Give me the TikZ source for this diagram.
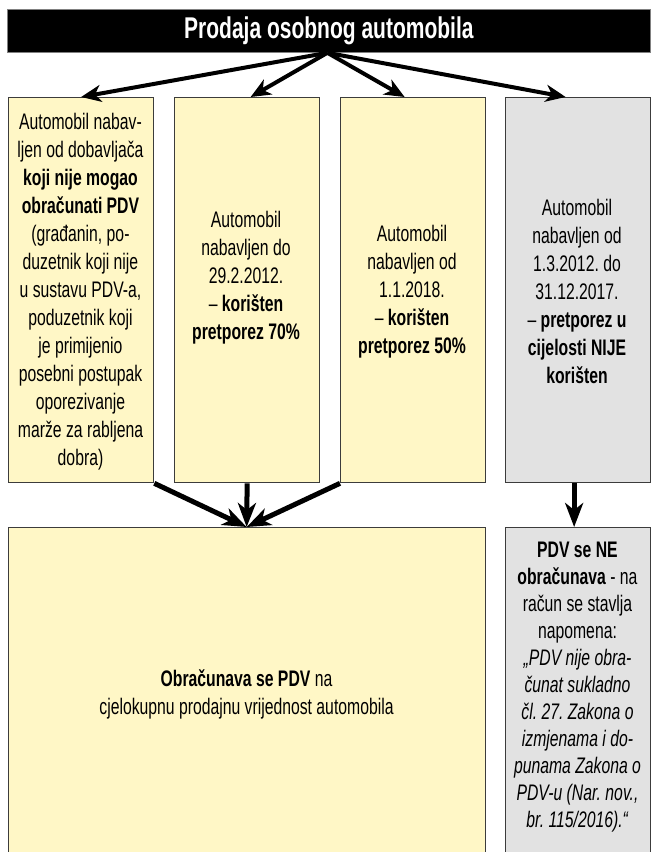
\documentclass[tikz,border=0pt]{standalone}
\usepackage{fontspec}
\setmainfont{Liberation Sans}[FakeStretch=0.70]
\usetikzlibrary{arrows.meta,calc}
\definecolor{boxyellow}{HTML}{FFF7C6}
\definecolor{boxgray}{HTML}{E2E2E2}
\definecolor{boxline}{HTML}{3C3C3C}
\frenchspacing
\begin{document}
\begin{tikzpicture}[x=1pt,y=-1pt,
  box/.style={draw=boxline,line width=1.3pt,minimum width=145pt,minimum height=385pt,inner sep=0pt,anchor=north west},
  ybox/.style={box,fill=boxyellow},
  gbox/.style={box,fill=boxgray},
  txt/.style={align=center,inner sep=0pt,font=\fontsize{22.5}{28}\selectfont},
  toparrow/.style={line width=4pt,-{Stealth[length=20pt,width=17pt,inset=6pt]}},
  downarrow/.style={line width=5pt,-{Stealth[length=24pt,width=18pt,inset=7pt]}}
]
\useasboundingbox (0,0) rectangle (653,852);
\clip (0,0) rectangle (653,852);
\fill[white] (0,0) rectangle (653,852);

% title
\node[fill=black,draw=gray,line width=0.8pt,minimum width=643pt,minimum height=43pt,inner sep=0pt,anchor=north west,
  text=white,font=\fontsize{30}{32}\selectfont\bfseries] (title) at (7,9) {Prodaja osobnog automobila};

% upper boxes
\node[ybox] (b1) at (8,97) {};
\node[ybox] (b2) at (174,97) {};
\node[ybox] (b3) at (340,97) {};
\node[gbox] (b4) at (505,97) {};

% lower boxes
\node[ybox,minimum width=477pt,minimum height=360pt] (c1) at (8,527) {};
\node[gbox,minimum height=360pt] (c2) at (505,527) {};

% texts
\node[txt] (t1) at (80.5,292) {Automobil nabav-\\ljen od dobavljača\\\textbf{koji nije mogao}\\\textbf{obračunati PDV}\\(građanin, po-\\duzetnik koji nije\\u sustavu PDV-a,\\poduzetnik koji\\je primijenio\\posebni postupak\\oporezivanje\\marže za rabljena\\dobra)};
\node[txt] (t2) at (246,278) {Automobil\\nabavljen do\\29.2.2012.\\– \textbf{korišten}\\\textbf{pretporez 70\%}};
\node[txt] (t3) at (412,292) {Automobil\\nabavljen od\\1.1.2018.\\– \textbf{korišten}\\\textbf{pretporez 50\%}};
\node[txt] (t4) at (577,291) {Automobil\\nabavljen od\\1.3.2012. do\\31.12.2017.\\– \textbf{pretporez u}\\\textbf{cijelosti NIJE}\\\textbf{korišten}};
\node[txt] (t5) at (246.5,694) {\textbf{Obračunava se PDV} na\\cjelokupnu prodajnu vrijednost automobila};
\node[txt,font=\fontsize{22.5}{27}\selectfont] (t6) at (577.5,687) {\textbf{PDV se NE}\\\textbf{obračunava} - na\\račun se stavlja\\napomena:\\\textit{„PDV nije obra-}\\\textit{čunat sukladno}\\\textit{čl. 27. Zakona o}\\\textit{izmjenama i do-}\\\textit{punama Zakona o}\\\textit{PDV-u (Nar. nov.,}\\\textit{br. 115/2016).“}};

% top arrows
\coordinate (src) at ($(title.south)+(-1.5,0)$);
\draw[toparrow] (src) -- (b1.north);
\draw[toparrow] (src) -- ($(b2.north)+(3.5,0)$);
\draw[toparrow] (src) -- ($(b3.north)+(-8.5,0)$);
\draw[toparrow] (src) -- ($(b4.north)+(-12.5,0)$);

% lower arrows
\coordinate (tip) at ($(c1.north)+(-0.5,0)$);
\draw[downarrow] (b1.south east) -- (tip);
\draw[downarrow] (b2.south) -- (tip);
\draw[downarrow] (b3.south west) -- (tip);
\draw[downarrow] ($(b4.south)+(-4,0)$) -- ($(c2.north)+(-4,0)$);
\end{tikzpicture}
\end{document}
